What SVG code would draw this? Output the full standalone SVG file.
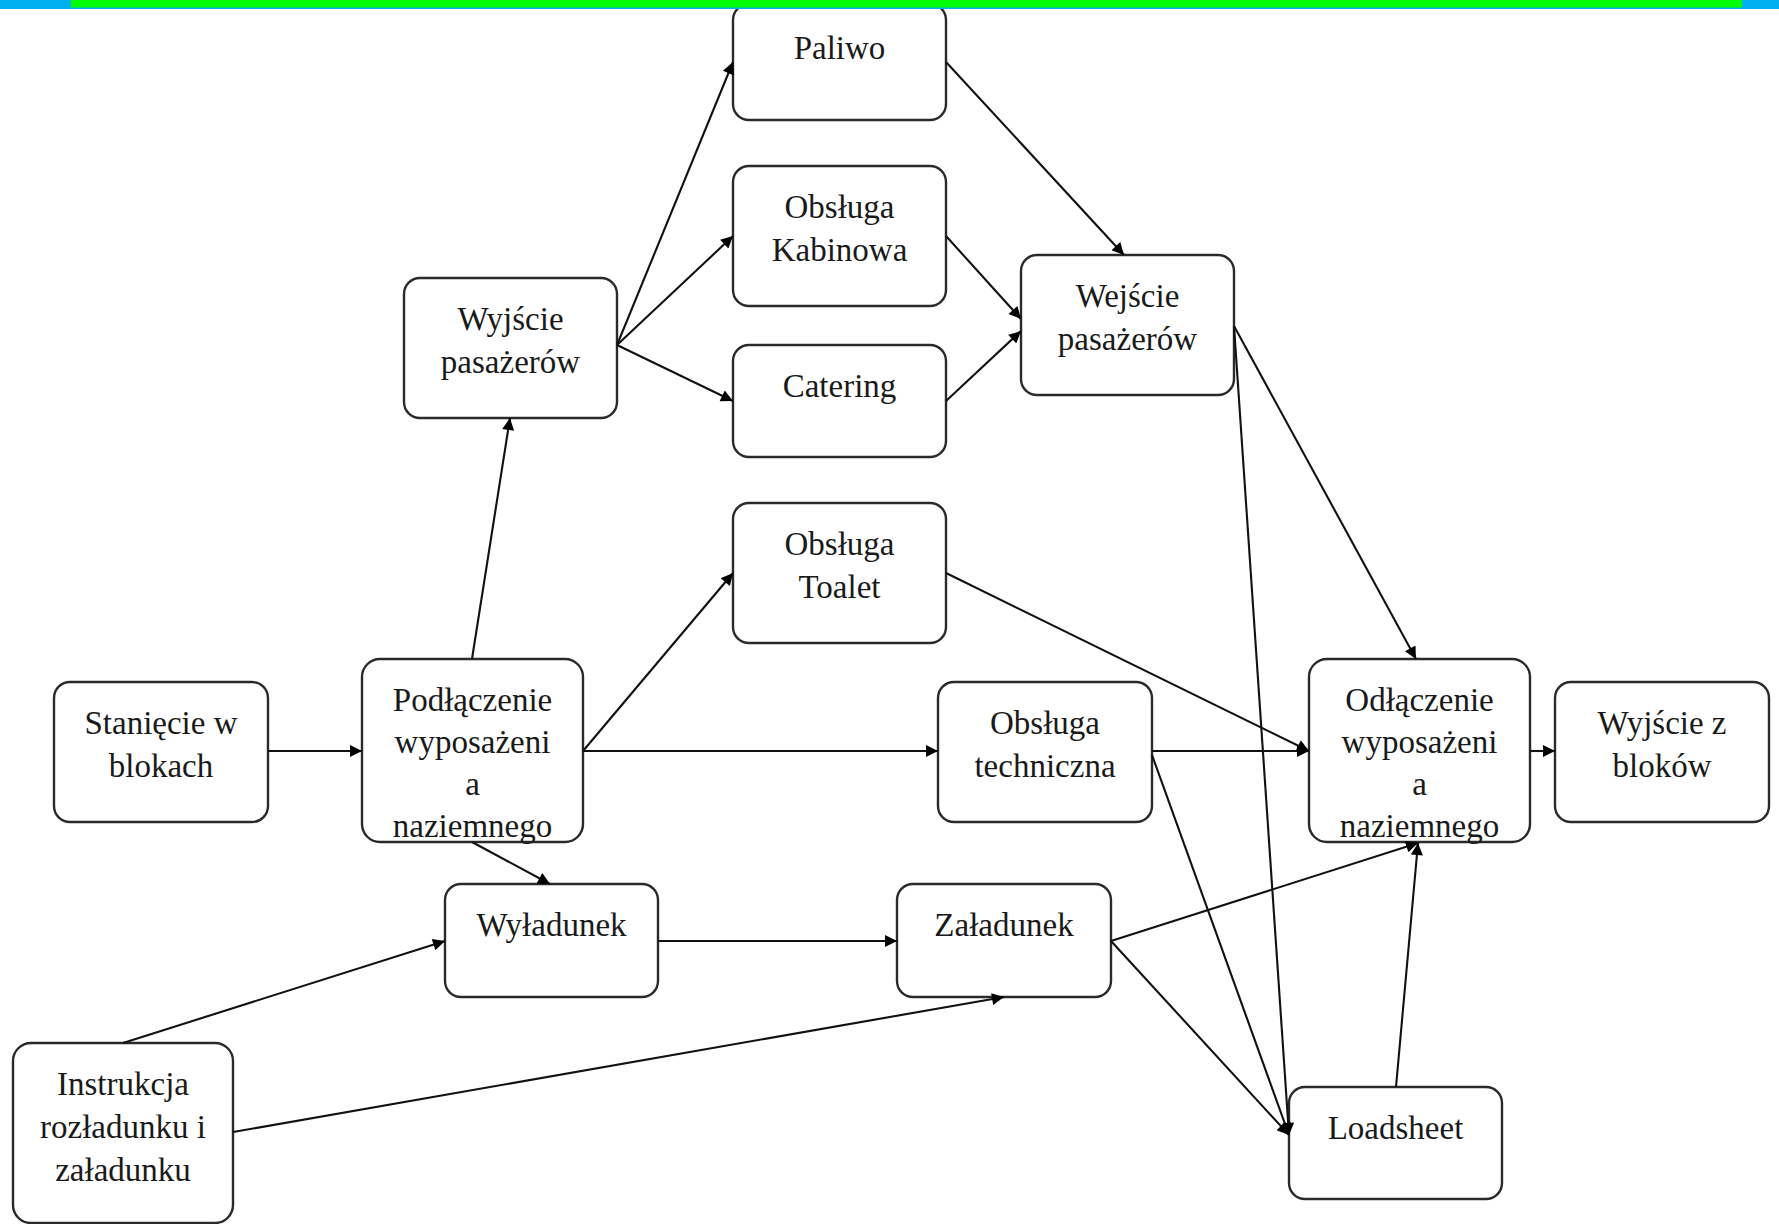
<svg xmlns="http://www.w3.org/2000/svg" width="1779" height="1224" viewBox="0 0 1779 1224">
<defs>
<style>
.box{fill:#fff;stroke:#2a2a2a;stroke-width:2.4}
.t{font-family:"Liberation Serif","Times New Roman",serif;font-size:33px;fill:#1a1a1a;text-anchor:middle}
.c{stroke:#111;stroke-width:2.1;fill:none;marker-end:url(#ah)}
</style>
<marker id="ah" viewBox="0 0 10 10" refX="10" refY="5" markerWidth="16" markerHeight="12" markerUnits="userSpaceOnUse" orient="auto">
<path d="M0,0 L10,5 L0,10 z" fill="#000"/>
</marker>
</defs>
<rect width="1779" height="1224" fill="#fff"/>

<g id="n-paliwo"><rect class="box" x="733" y="4" width="213" height="116" rx="16"/><text class="t" x="839.5" y="59">Paliwo</text></g>
<g id="n-kabinowa"><rect class="box" x="733" y="166" width="213" height="140" rx="16"/><text class="t" x="839.5" y="218">Obsługa</text><text class="t" x="839.5" y="261">Kabinowa</text></g>
<g id="n-catering"><rect class="box" x="733" y="345" width="213" height="112" rx="16"/><text class="t" x="839.5" y="397">Catering</text></g>
<g id="n-wyjscie-pas"><rect class="box" x="404" y="278" width="213" height="140" rx="16"/><text class="t" x="510.5" y="330">Wyjście</text><text class="t" x="510.5" y="373">pasażerów</text></g>
<g id="n-wejscie-pas"><rect class="box" x="1021" y="255" width="213" height="140" rx="16"/><text class="t" x="1127.5" y="307">Wejście</text><text class="t" x="1127.5" y="350">pasażerów</text></g>
<g id="n-toalet"><rect class="box" x="733" y="503" width="213" height="140" rx="16"/><text class="t" x="839.5" y="555">Obsługa</text><text class="t" x="839.5" y="598">Toalet</text></g>
<g id="n-staniecie"><rect class="box" x="54" y="682" width="214" height="140" rx="16"/><text class="t" x="161" y="734">Stanięcie w</text><text class="t" x="161" y="777">blokach</text></g>
<g id="n-podlaczenie"><rect class="box" x="362" y="659" width="221" height="183" rx="18"/><text class="t" x="472.5" y="711">Podłączenie</text><text class="t" x="472.5" y="753">wyposażeni</text><text class="t" x="472.5" y="795">a</text><text class="t" x="472.5" y="837">naziemnego</text></g>
<g id="n-techniczna"><rect class="box" x="938" y="682" width="214" height="140" rx="16"/><text class="t" x="1045" y="734">Obsługa</text><text class="t" x="1045" y="777">techniczna</text></g>
<g id="n-odlaczenie"><rect class="box" x="1309" y="659" width="221" height="183" rx="18"/><text class="t" x="1419.5" y="711">Odłączenie</text><text class="t" x="1419.5" y="753">wyposażeni</text><text class="t" x="1419.5" y="795">a</text><text class="t" x="1419.5" y="837">naziemnego</text></g>
<g id="n-wyjscie-blokow"><rect class="box" x="1555" y="682" width="214" height="140" rx="16"/><text class="t" x="1662" y="734">Wyjście z</text><text class="t" x="1662" y="777">bloków</text></g>
<g id="n-wyladunek"><rect class="box" x="445" y="884" width="213" height="113" rx="16"/><text class="t" x="551.5" y="936">Wyładunek</text></g>
<g id="n-zaladunek"><rect class="box" x="897" y="884" width="214" height="113" rx="16"/><text class="t" x="1004" y="936">Załadunek</text></g>
<g id="n-instrukcja"><rect class="box" x="13" y="1043" width="220" height="180" rx="18"/><text class="t" x="123" y="1095">Instrukcja</text><text class="t" x="123" y="1138">rozładunku i</text><text class="t" x="123" y="1181">załadunku</text></g>
<g id="n-loadsheet"><rect class="box" x="1289" y="1087" width="213" height="112" rx="16"/><text class="t" x="1395.5" y="1139">Loadsheet</text></g>

<g id="connectors">
<line class="c" x1="268" y1="751" x2="362" y2="751"/>
<line class="c" x1="472" y1="659" x2="510" y2="418"/>
<line class="c" x1="583" y1="751" x2="733" y2="573"/>
<line class="c" x1="583" y1="751" x2="938" y2="751"/>
<line class="c" x1="472" y1="842" x2="550" y2="884"/>
<line class="c" x1="617" y1="345" x2="733" y2="62"/>
<line class="c" x1="617" y1="345" x2="733" y2="236"/>
<line class="c" x1="617" y1="345" x2="733" y2="401"/>
<line class="c" x1="946" y1="62" x2="1124" y2="255"/>
<line class="c" x1="946" y1="236" x2="1021" y2="319"/>
<line class="c" x1="946" y1="401" x2="1021" y2="331"/>
<line class="c" x1="1234" y1="326" x2="1416" y2="659"/>
<line class="c" x1="1234" y1="326" x2="1289" y2="1135"/>
<line class="c" x1="946" y1="573" x2="1309" y2="751"/>
<line class="c" x1="1152" y1="751" x2="1309" y2="751"/>
<line class="c" x1="1152" y1="755" x2="1289" y2="1135"/>
<line class="c" x1="1530" y1="751" x2="1555" y2="751"/>
<line class="c" x1="658" y1="941" x2="897" y2="941"/>
<line class="c" x1="123" y1="1043" x2="445" y2="941"/>
<line class="c" x1="233" y1="1132" x2="1004" y2="997"/>
<line class="c" x1="1111" y1="941" x2="1418" y2="843"/>
<line class="c" x1="1111" y1="941" x2="1289" y2="1135"/>
<line class="c" x1="1396" y1="1087" x2="1418" y2="843"/>
</g>

<g id="top-bar">
<rect x="0" y="0" width="1779" height="9" fill="#00b0f0"/>
<rect x="71" y="0" width="1671" height="7.5" fill="#00ff00"/>
</g>
</svg>
